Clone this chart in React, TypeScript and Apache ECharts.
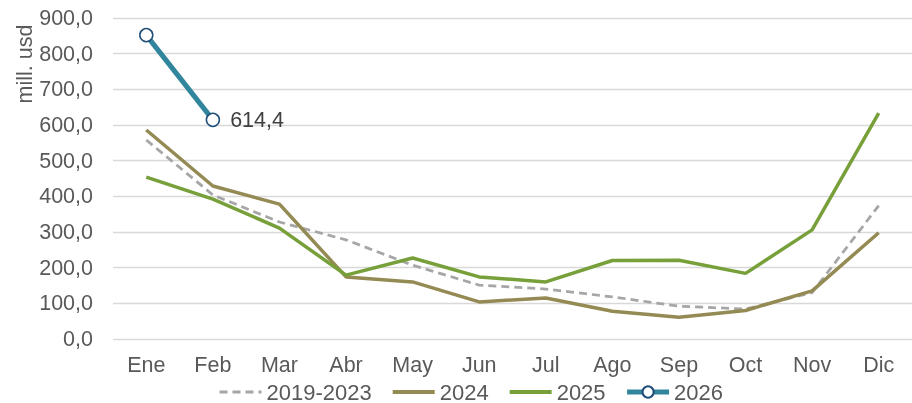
import React, { useEffect, useRef } from "react";
import * as echarts from "echarts";

const months = ["Ene", "Feb", "Mar", "Abr", "May", "Jun", "Jul", "Ago", "Sep", "Oct", "Nov", "Dic"];
const avg2019_2023 = [558, 404, 328, 278, 207, 151, 140, 118, 92, 84, 130, 374];
const y2024 = [586, 429, 378, 174, 160, 104, 115, 78, 61, 80, 135, 298];
const y2025 = [454, 392, 311, 179, 227, 174, 160, 220, 221, 184, 306, 633];
const y2026 = [852, 614.4];

const fmt = (v: number) => v.toFixed(1).replace(".", ",");

export default function App() {
  const ref = useRef<HTMLDivElement>(null);
  useEffect(() => {
    if (!ref.current) return;
    const chart = echarts.init(ref.current, undefined, { renderer: "svg" });
    const font = "Liberation Sans, Arial, sans-serif";
    const hidden = { opacity: 0, color: "transparent", borderWidth: 0 };
    chart.setOption({
      animation: false,
      textStyle: { fontFamily: font },
      grid: { left: 113, right: 0, top: 18, bottom: 64, containLabel: false },
      xAxis: {
        type: "category",
        data: months,
        boundaryGap: true,
        axisLine: { show: false },
        axisTick: { show: false },
        axisLabel: { color: "#595959", fontSize: 21.5, margin: 15, fontFamily: font },
      },
      yAxis: {
        type: "value",
        min: 0,
        max: 900,
        interval: 100,
        axisLine: { show: false },
        axisTick: { show: false },
        splitLine: { lineStyle: { color: "#D9D9D9", width: 1.3 } },
        axisLabel: { color: "#595959", fontSize: 21.5, margin: 20, fontFamily: font, formatter: (v: number) => fmt(v) },
      },
      graphic: [
        {
          type: "text",
          x: 25,
          y: 64,
          rotation: Math.PI / 2,
          style: {
            text: "mill. usd",
            fill: "#595959",
            fontSize: 21.5,
            fontFamily: font,
            textAlign: "center",
            textVerticalAlign: "middle",
          },
        },
      ],
      legend: {
        top: 376,
        left: 213,
        itemWidth: 42,
        itemHeight: 14,
        itemGap: 19,
        textStyle: { color: "#595959", fontSize: 22, fontFamily: font },
        data: [
          { name: "2019-2023", itemStyle: hidden, lineStyle: { width: 3, type: [8, 5] } },
          { name: "2024", itemStyle: hidden, lineStyle: { width: 4 } },
          { name: "2025", itemStyle: hidden, lineStyle: { width: 4 } },
          { name: "2026", lineStyle: { width: 5 } },
        ],
      },
      series: [
        {
          name: "2019-2023",
          type: "line",
          data: avg2019_2023,
          symbol: "none",
          lineStyle: { color: "#A6A6A6", width: 2.75, type: [8, 5] },
          itemStyle: { color: "#A6A6A6" },
          z: 2,
        },
        {
          name: "2024",
          type: "line",
          data: y2024,
          symbol: "none",
          lineStyle: { color: "#948A54", width: 3.5 },
          itemStyle: { color: "#948A54" },
          z: 3,
        },
        {
          name: "2025",
          type: "line",
          data: y2025,
          symbol: "none",
          lineStyle: { color: "#77A03A", width: 3.5 },
          itemStyle: { color: "#77A03A" },
          z: 4,
        },
        {
          name: "2026",
          type: "line",
          data: y2026.map((v, i) =>
            i === y2026.length - 1
              ? {
                  value: v,
                  label: {
                    show: true,
                    position: "right",
                    distance: 10,
                    color: "#404040",
                    fontSize: 21.5,
                    fontFamily: font,
                    formatter: (p: any) => fmt(p.value),
                  },
                }
              : v
          ),
          symbol: "circle",
          symbolSize: 13,
          lineStyle: { color: "#31859C", width: 5 },
          itemStyle: { color: "#FFFFFF", borderColor: "#1F4E79", borderWidth: 1.5 },
          z: 5,
        },
      ],
    });
    return () => chart.dispose();
  }, []);
  return <div ref={ref} style={{ position: "fixed", left: 0, top: 0, width: 912, height: 403 }} />;
}
